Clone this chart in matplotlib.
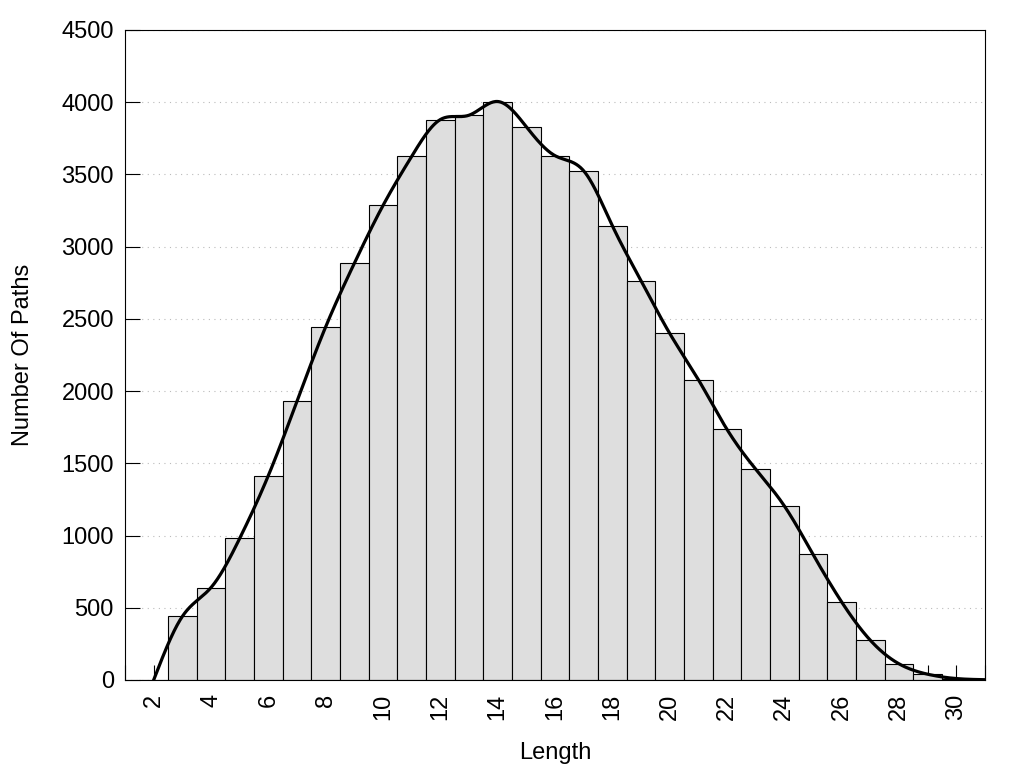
import numpy as np
import matplotlib
matplotlib.use('Agg')
import matplotlib.pyplot as plt

plt.rcParams['font.family'] = ['Liberation Sans', 'DejaVu Sans']

# path length histogram
lengths = list(range(2, 32))
counts = [0, 440, 640, 980, 1415, 1930, 2445, 2885, 3285, 3625,
          3880, 3910, 4005, 3830, 3630, 3525, 3145, 2765, 2400, 2080,
          1735, 1460, 1205, 870, 540, 275, 112, 40, 10, 2]

x = np.array(lengths, dtype=float)
y = np.array(counts, dtype=float)

# natural cubic spline through the bar tops (like gnuplot "smooth csplines")
n = len(x)
A = np.zeros((n, n))
b = np.zeros(n)
A[0, 0] = 1
A[-1, -1] = 1
for i in range(1, n - 1):
    A[i, i - 1], A[i, i], A[i, i + 1] = 1, 4, 1
    b[i] = 6 * (y[i + 1] - 2 * y[i] + y[i - 1])
M = np.linalg.solve(A, b)

xs, ys = [], []
for i in range(n - 1):
    u = np.linspace(0, 1, 40)
    s = ((1 - u) * y[i] + u * y[i + 1]
         + ((1 - u) ** 3 - (1 - u)) * M[i] / 6
         + (u ** 3 - u) * M[i + 1] / 6)
    xs.extend(x[i] + u)
    ys.extend(s)

fig = plt.figure(figsize=(10.24, 7.68), dpi=100)
ax = fig.add_axes([125 / 1024, 88 / 768, 860 / 1024, 650 / 768])

ax.bar(x, y, width=1.0, color='#dedede', edgecolor='black', linewidth=0.8, zorder=3)
ax.plot(xs, ys, color='black', linewidth=2.3, zorder=4)

ax.set_xlim(1, 31)
ax.set_ylim(0, 4500)
ax.set_xticks(range(2, 31, 2))
ax.set_xticks(range(1, 32), minor=True)
ax.set_yticks(range(0, 4501, 500))
ax.tick_params(axis='both', direction='in', length=11, width=0.8, labelsize=17)
ax.tick_params(axis='x', which='minor', direction='in', length=11, width=0.8)
ax.tick_params(axis='x', labelrotation=90, pad=10)
ax.tick_params(axis='y', pad=8)
for t in ax.get_xticklines() + ax.get_yticklines() + ax.xaxis.get_minorticklines():
    t.set_zorder(1)

ax.yaxis.grid(True, linestyle=(0, (1, 4)), color='#bbbbbb', linewidth=0.8)
ax.set_axisbelow(True)
for sp in ax.spines.values():
    sp.set_linewidth(0.8)
    sp.set_zorder(5)

ax.set_xlabel('Length', fontsize=17, labelpad=16)
ax.set_ylabel('Number Of Paths', fontsize=17, labelpad=20)

fig.savefig('out.png', dpi=100)
